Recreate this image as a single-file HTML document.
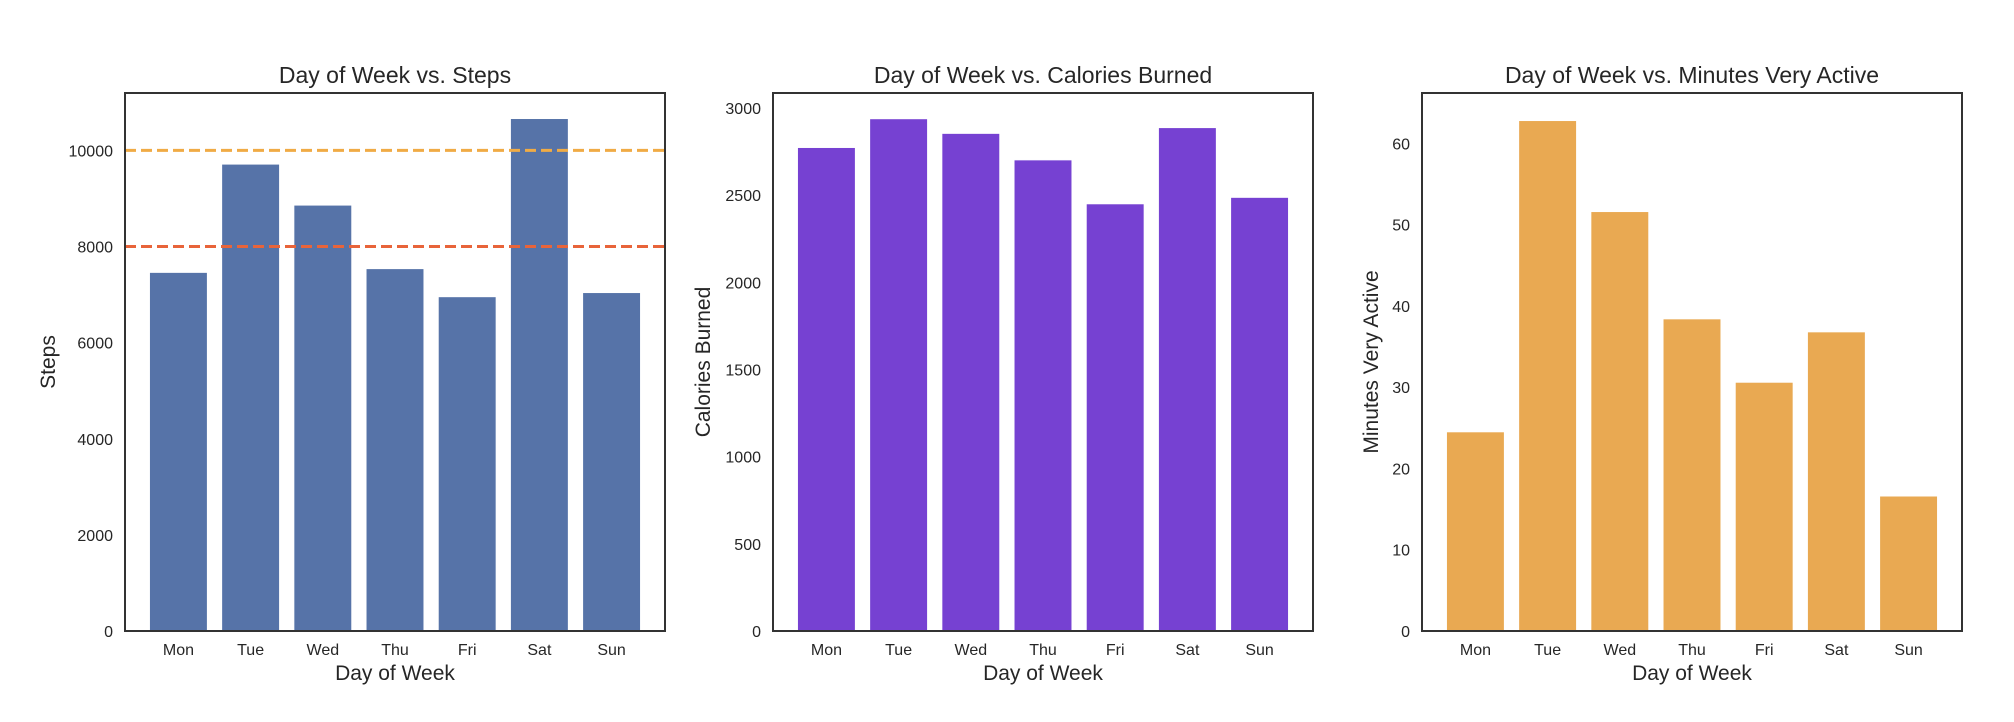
<!DOCTYPE html>
<html><head><meta charset="utf-8"><style>
html,body{margin:0;padding:0;background:#fff;width:2014px;height:722px;overflow:hidden}
svg text{font-family:"Liberation Sans",Arial,sans-serif;fill:#262626}
</style></head><body>
<svg id="fig" width="2014" height="722" viewBox="0 0 2014 722" xmlns="http://www.w3.org/2000/svg"></svg>
<script>
const days = ["Mon","Tue","Wed","Thu","Fri","Sat","Sun"];
const stepsValues = [7460, 9713, 8860, 7538, 6954, 10661, 7040];
const stepsTicks = [0, 2000, 4000, 6000, 8000, 10000];
const stepsGoals = [10000, 8000];
const caloriesValues = [2773, 2938, 2854, 2702, 2450, 2887, 2487];
const caloriesTicks = [0, 500, 1000, 1500, 2000, 2500, 3000];
const activeValues = [24.5, 62.8, 51.6, 38.4, 30.6, 36.8, 16.6];
const activeTicks = [0, 10, 20, 30, 40, 50, 60];

const NS = "http://www.w3.org/2000/svg";
const svg = document.getElementById("fig");
function mk(tag, attrs, parent, text) {
  const e = document.createElementNS(NS, tag);
  for (const k in attrs) e.setAttribute(k, attrs[k]);
  if (text !== undefined) e.textContent = text;
  (parent || svg).appendChild(e);
  return e;
}

function drawChart(cfg) {
  const g = mk("g", {});
  
  
  const L = cfg.left, R = cfg.left + 540, T = 93, B = 631;
  const n = cfg.cats.length;
  const xmin = -0.74, xmax = n - 1 + 0.74;
  const xs = v => L + (v - xmin) / (xmax - xmin) * (R - L);
  const ys = v => B - v / cfg.ymax * (B - T);
  // bars
  cfg.values.forEach((v, i) => {
    const r = mk("rect", {x: xs(i - 0.4), y: ys(v), width: xs(i + 0.4) - xs(i - 0.4), height: B - ys(v), fill: cfg.color, stroke: "#fff", "stroke-width": 0.8}, g);
    
    
  });
  // ref lines
  (cfg.lines || []).forEach((ln, i) => {
    const l = mk("line", {x1: L, x2: R, y1: ys(ln), y2: ys(ln), stroke: cfg.lineColors[i], "stroke-width": 3, "stroke-dasharray": "11,5"}, g);
    
    
  });
  // frame
  const fr = mk("rect", {x: L, y: T, width: R - L, height: B - T, fill: "none", stroke: "#333", "stroke-width": 2}, g);
  
  
  // y ticks
  cfg.ticks.forEach(t => {
    const tx = mk("text", {x: L - 12, y: ys(t) + 6, "text-anchor": "end", "font-size": 16}, g, String(t));
    
    
  });
  // x ticks
  cfg.cats.forEach((c, i) => {
    const tx = mk("text", {x: xs(i), y: 655, "text-anchor": "middle", "font-size": 16}, g, c);
    
    
  });
  const xl = mk("text", {x: (L + R) / 2, y: 680, "text-anchor": "middle", "font-size": 21}, g, "Day of Week");
  
  
  const yl = mk("text", {x: 0, y: 0, "text-anchor": "middle", "font-size": 21, transform: "translate(" + (cfg.ylabelX + 7) + "," + ((T + B) / 2) + ") rotate(-90)"}, g, cfg.ylabel);
  
  
  const ti = mk("text", {x: (L + R) / 2, y: 83, "text-anchor": "middle", "font-size": 23}, g, cfg.title);
  
  
}

drawChart({name: "steps-chart", left: 125, cats: days, values: stepsValues, ticks: stepsTicks, ymax: 11194,
  color: "#5673a8", lines: stepsGoals, lineColors: ["#f0ab45", "#e8643a"],
  title: "Day of Week vs. Steps", ylabel: "Steps", ylabelX: 48});
drawChart({name: "calories-chart", left: 773, cats: days, values: caloriesValues, ticks: caloriesTicks, ymax: 3086,
  color: "#7641d2", title: "Day of Week vs. Calories Burned", ylabel: "Calories Burned", ylabelX: 703});
drawChart({name: "active-minutes-chart", left: 1422, cats: days, values: activeValues, ticks: activeTicks, ymax: 66.2,
  color: "#e9a952", title: "Day of Week vs. Minutes Very Active", ylabel: "Minutes Very Active", ylabelX: 1371});
</script>
</body></html>
